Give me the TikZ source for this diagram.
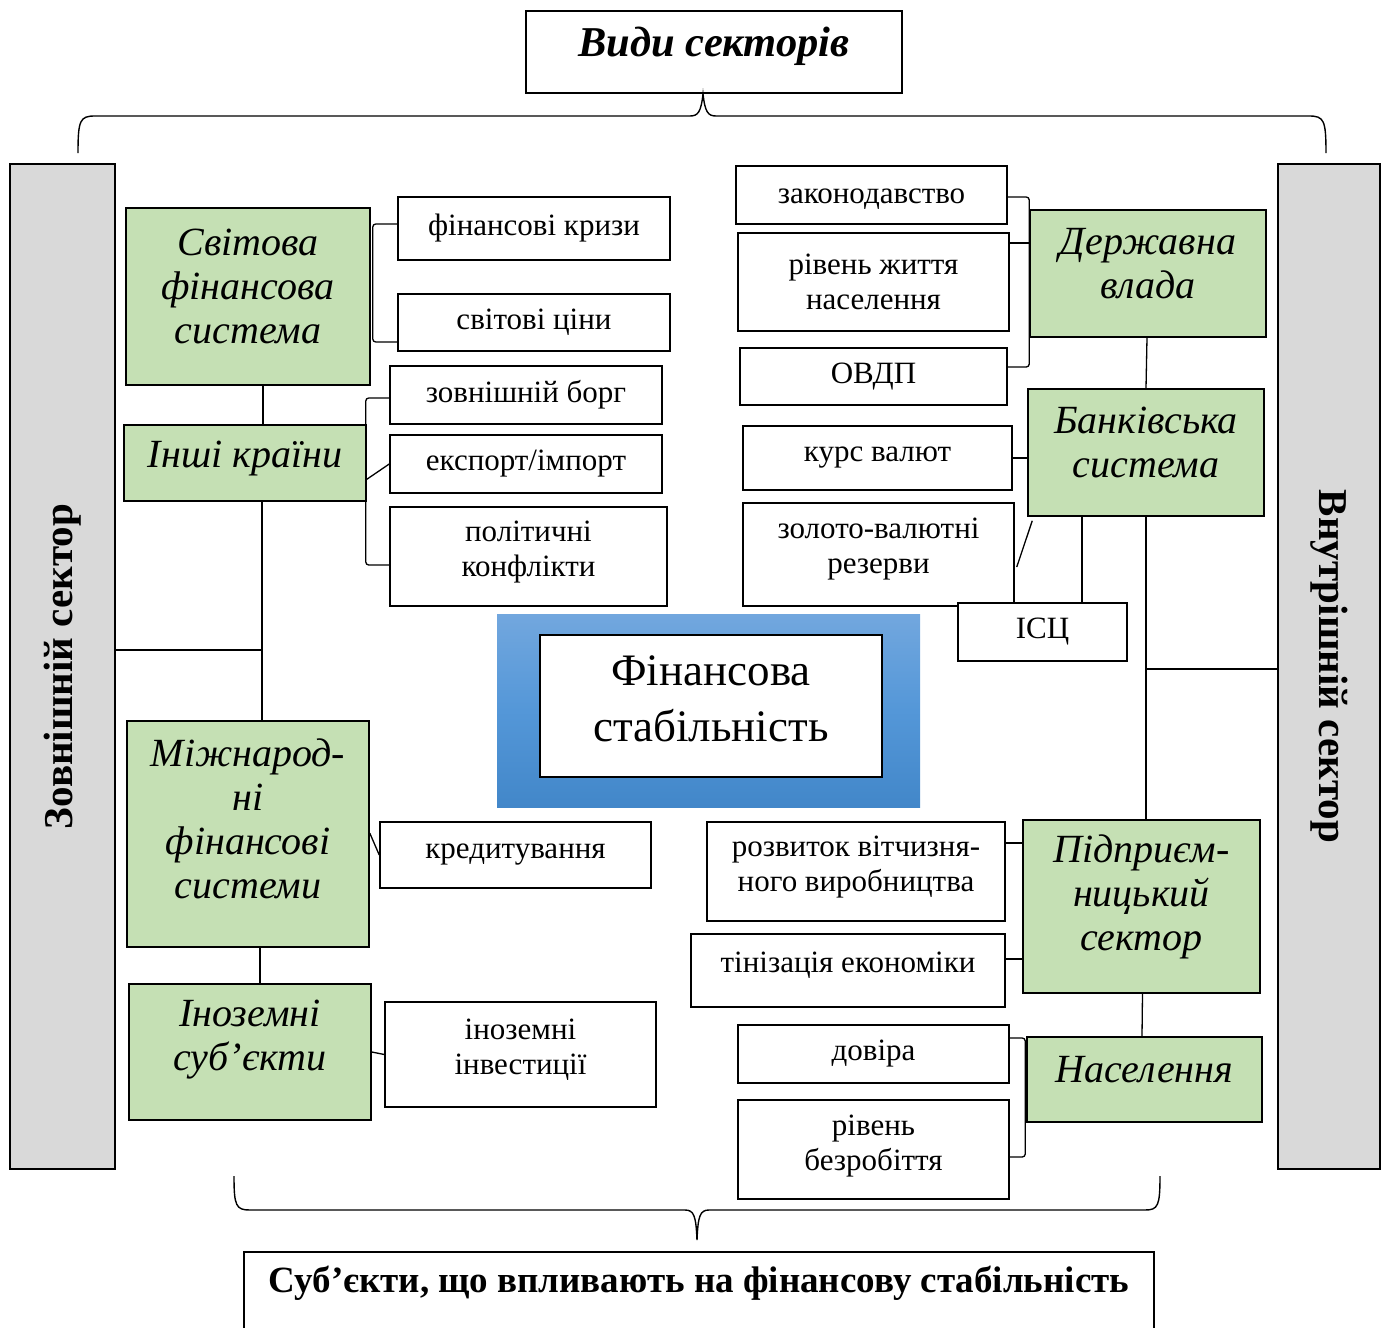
\documentclass[tikz,border=0pt]{standalone}
\usepackage{fontspec}
\setmainfont{Liberation Serif}
\usepackage{graphicx}
\definecolor{gfill}{RGB}{197,224,180}
\definecolor{sgray}{RGB}{217,217,217}
\definecolor{btop}{RGB}{114,167,222}
\definecolor{bmid}{RGB}{84,151,216}
\definecolor{bbot}{RGB}{66,135,201}
\tikzset{
  wbox/.style={draw, fill=white, line width=1.5pt, align=center, inner sep=2pt,
    font=\fontsize{31}{35}\selectfont},
  gbox/.style={draw, fill=gfill, line width=1.5pt, align=center, inner sep=2pt,
    font=\fontsize{40}{44}\selectfont\itshape, text depth=20pt},
  sbar/.style={draw, fill=sgray, line width=1.5pt, align=center, inner sep=0pt,
    font=\fontsize{41}{46}\selectfont\bfseries},
  conn/.style={line width=1.3pt, rounded corners=3pt},
  brace/.style={line width=1.4pt}
}
\begin{document}
\begin{tikzpicture}[x=1pt,y=-1pt]
\useasboundingbox (0,0) rectangle (1385,1328);

% top title and brace
\node (top) [wbox, minimum width=376, minimum height=82, text depth=20pt,
  font=\fontsize{42.5}{48}\selectfont\bfseries\itshape] at (714,52) {Види секторів};
\coordinate (tl) at (78,153);
\coordinate (tr) at (1326,153);
\coordinate (ttip) at (703,94);
\draw[brace] (tl) .. controls (78,120) and (80,116) .. (95,116) -- (690,116)
  .. controls (698,116) and (701,112) .. (ttip)
  .. controls (705,112) and (708,116) .. (716,116) -- (1309,116)
  .. controls (1324,116) and (1326,120) .. (tr);

% sector bars
\node (lbar) [sbar, rotate=90, minimum width=1005, minimum height=105] at (62.5,666.5) {Зовнішній сектор};
\node (rbar) [sbar, rotate=-90, minimum width=1005, minimum height=102] at (1329,666.5) {Внутрішній сектор};

% left green boxes
\node (svit) [gbox, minimum width=244, minimum height=177] at (248,296.5) {Світова\\фінансова\\система};
\node (inshi) [gbox, minimum width=242, minimum height=76, text depth=18pt] at (245,463) {Інші країни};
\node (mizh) [gbox, minimum width=242, minimum height=226, text depth=30pt] at (248,834) {Міжнарод-\\ні\\фінансові\\системи};
\node (inoz) [gbox, minimum width=242, minimum height=136, text depth=34pt] at (250,1052) {Іноземні\\суб’єкти};

% left white boxes
\node (fk) [wbox, minimum width=272, minimum height=63] at (534,228.5) {фінансові кризи};
\node (sc) [wbox, minimum width=272, minimum height=57] at (534,322.5) {світові ціни};
\node (zb) [wbox, minimum width=272, minimum height=58] at (526,395) {зовнішній борг};
\node (ei) [wbox, minimum width=272, minimum height=58] at (526,464) {експорт/імпорт};
\node (pk) [wbox, minimum width=277, minimum height=99, text depth=16pt] at (528.5,556.5) {політичні\\конфлікти};
\node (kr) [wbox, minimum width=271, minimum height=66, text depth=8pt] at (515.5,855) {кредитування};
\node (ii) [wbox, minimum width=271, minimum height=105, text depth=16pt] at (520.5,1054.5) {іноземні\\інвестиції};

% centre
\node (fsout) [minimum width=423, minimum height=193, inner sep=0pt,
  top color=btop, bottom color=bbot, middle color=bmid] at (708.5,710.5) {};
\node (fsin) [wbox, minimum width=342, minimum height=142, text depth=14pt,
  font=\fontsize{45}{56}\selectfont] at (711,706) {Фінансова\\стабільність};

% right white boxes
\node (zak) [wbox, minimum width=271, minimum height=58, text height=22pt] at (871.5,195) {законодавство};
\node (rzh) [wbox, minimum width=271, minimum height=98] at (873.5,282) {рівень життя\\населення};
\node (ovdp) [wbox, minimum width=267, minimum height=57] at (873.5,376.5) {ОВДП};
\node (kv) [wbox, minimum width=269, minimum height=64] at (877.5,458) {курс валют};
\node (zvr) [wbox, minimum width=271, minimum height=103, text depth=18pt] at (878.5,554.5) {золото-валютні\\резерви};
\node (isc) [wbox, minimum width=169, minimum height=58] at (1042.5,632) {ІСЦ};
\node (rvv) [wbox, minimum width=298, minimum height=99, text depth=16pt] at (856,871.5) {розвиток вітчизня-\\ного виробництва};
\node (tin) [wbox, minimum width=314, minimum height=73, text depth=16pt] at (848,970.5) {тінізація економіки};
\node (dov) [wbox, minimum width=271, minimum height=58] at (873.5,1054) {довіра};
\node (rb) [wbox, minimum width=271, minimum height=99, text depth=14pt] at (873.5,1149.5) {рівень\\безробіття};

% right green boxes
\node (derzh) [gbox, minimum width=236, minimum height=127] at (1148,273.5) {Державна\\влада};
\node (bank) [gbox, minimum width=236, minimum height=127] at (1146,452.5) {Банківська\\система};
\node (pidpr) [gbox, minimum width=237, minimum height=173, text depth=28pt] at (1141.5,906.5) {Підприєм-\\ницький\\сектор};
\node (nas) [gbox, minimum width=235, minimum height=85] at (1144.5,1079.5) {Населення};

% bottom brace and title
\node (bot) [draw, fill=white, line width=1.5pt, minimum width=910, minimum height=100,
  anchor=north, inner sep=0pt] at (699,1251) {};
\node (bottxt) [font=\fontsize{37}{42}\selectfont\bfseries, inner sep=0pt] at (699,1283)
  {Суб’єкти, що впливають на фінансову стабільність};
\coordinate (bl) at (234,1176);
\coordinate (br) at (1160,1176);
\coordinate (btip) at (697,1240);
\draw[brace] (bl) .. controls (234,1206) and (236,1210) .. (250,1210) -- (685,1210)
  .. controls (694,1210) and (696,1216) .. (btip)
  .. controls (698,1216) and (700,1210) .. (709,1210) -- (1145,1210)
  .. controls (1158,1210) and (1160,1206) .. (br);

% ---- left connectors
\draw[conn] ([yshift=4.5]fk.west) -| ([xshift=2]svit.east) |- ([yshift=-19.5]sc.west);
\draw[conn] ([xshift=15]svit.south) -- ([xshift=18]inshi.north);
\draw[conn] ([yshift=-3]zb.west) -| ([xshift=-1]inshi.east) |- ([yshift=-8.5]pk.west);
\draw[conn] ([xshift=-1,yshift=-17]inshi.east) -- (ei.west);
\draw[conn] ([xshift=17]inshi.south) -- ([xshift=14]mizh.north);
\coordinate (j1) at (262,650);
\draw[conn] (lbar.south |- j1) -- (j1);
\draw[conn] ([xshift=12]mizh.south) -- ([xshift=10]inoz.north);
\draw[conn] ([yshift=1]mizh.east) -- (kr.west);
\draw[conn] (inoz.east) -- (ii.west);

% ---- right connectors
\draw[conn] ([yshift=-2]zak.east) -| (derzh.west) |- ([yshift=9.5]ovdp.east);
\coordinate (r1) at ([yshift=39]rzh.east);
\draw[conn] (r1) -- (derzh.west |- r1);
\draw[conn] ([xshift=-1]derzh.south) -- (bank.north);
\draw[conn] (kv.east) -- (bank.west |- kv.east);
\draw[conn] ([xshift=2,yshift=-12.5]zvr.east) -- ([xshift=5,yshift=-4]bank.south west);
\draw[conn] ([xshift=-64]bank.south) -- ([xshift=39.5]isc.north);
\draw[conn] (bank.south) -- ([xshift=4.5]pidpr.north);
\coordinate (j2) at (1146,669);
\draw[conn] (j2) -- (rbar.south |- j2);
\coordinate (p1) at ([yshift=28.5]rvv.east);
\draw[conn] (p1) -- (pidpr.west |- p1);
\coordinate (p2) at ([yshift=11.5]tin.east);
\draw[conn] (p2) -- (pidpr.west |- p2);
\draw[conn] ([xshift=1]pidpr.south) -- ([xshift=-2.5]nas.north);
\draw[conn] ([yshift=16]dov.east) -| ([xshift=-1]nas.west) |- ([yshift=-7.5]rb.east);
\end{tikzpicture}
\end{document}
